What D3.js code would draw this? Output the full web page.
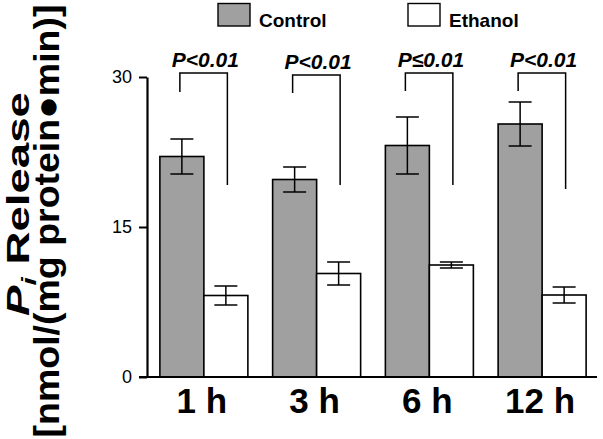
<!DOCTYPE html>
<html><head><meta charset="utf-8">
<script src="https://cdn.jsdelivr.net/npm/d3@7"></script>
<style>body{margin:0;background:#fff} svg{display:block} text{font-family:"Liberation Sans",Arial,Helvetica,sans-serif}</style>
</head><body><svg id="c" width="603" height="439"></svg>
<script>
const groups = ["1 h", "3 h", "6 h", "12 h"];
const series = ["Control", "Ethanol"];
const controlValues = [22.05, 19.75, 23.15, 25.3];
const controlErrors = [1.75, 1.25, 2.85, 2.2];
const ethanolValues = [8.15, 10.35, 11.2, 8.2];
const ethanolErrors = [0.95, 1.15, 0.3, 0.8];
const yTicks = [0, 15, 30];
const pLabels = ["P<0.01", "P<0.01", "P\u22640.01", "P<0.01"];
const bracketTop = [30.4, 30.2, 30.4, 30.4];
const bracketLeftEnd = [28.5, 28.4, 28.6, 28.6];
const bracketRightEnd = [19.2, 19.2, 19.2, 18.8];
const colors = {Control: "#a0a0a0", Ethanol: "#ffffff"};

const svg = d3.select("#c");
const x = d3.scaleBand().domain(groups).range([147.5, 598.5]).padding(0);
const y = d3.scaleLinear().domain([0, 30]).range([377, 77]);
const barW = 44;
const xs = d3.scaleBand().domain(series).range([-barW, barW]).padding(0);
const cx = g => x(g) + x.bandwidth() / 2;

const data = [];
groups.forEach((g, i) => {
  data.push({g, s: "Control", v: controlValues[i], e: controlErrors[i]});
  data.push({g, s: "Ethanol", v: ethanolValues[i], e: ethanolErrors[i]});
});

// bars
svg.append("g").selectAll("rect").data(data).join("rect")
  .attr("x", d => cx(d.g) + xs(d.s))
  .attr("y", d => y(d.v))
  .attr("width", xs.bandwidth())
  .attr("height", d => y(0) - y(d.v))
  .attr("fill", d => colors[d.s])
  .attr("stroke", "#000").attr("stroke-width", 1.6);

// error bars
const eg = svg.append("g").attr("stroke", "#000").attr("stroke-width", 1.5);
data.forEach(d => {
  const mx = cx(d.g) + xs(d.s) + xs.bandwidth() / 2;
  eg.append("line").attr("x1", mx).attr("x2", mx).attr("y1", y(d.v + d.e)).attr("y2", y(d.v - d.e));
  eg.append("line").attr("x1", mx - 11.5).attr("x2", mx + 11.5).attr("y1", y(d.v + d.e)).attr("y2", y(d.v + d.e));
  eg.append("line").attr("x1", mx - 11.5).attr("x2", mx + 11.5).attr("y1", y(d.v - d.e)).attr("y2", y(d.v - d.e));
});

// brackets + p labels
const bg = svg.append("g");
groups.forEach((g, i) => {
  const lx = cx(g) + xs("Control") + xs.bandwidth() / 2 - 2;
  const rx = cx(g) + xs("Ethanol") + xs.bandwidth() / 2 + 1.5;
  bg.append("path")
    .attr("d", `M${lx},${y(bracketLeftEnd[i])}V${y(bracketTop[i])}H${rx}V${y(bracketRightEnd[i])}`)
    .attr("fill", "none").attr("stroke", "#000").attr("stroke-width", 1.5);
  bg.append("text").attr("x", cx(g) + 1.5).attr("y", y(bracketTop[i]) - 6)
    .attr("text-anchor", "middle").attr("font-size", 21).attr("font-weight", "bold")
    .attr("font-style", "italic").text(pLabels[i]);
});

// y axis
const ya = svg.append("g").attr("transform", "translate(147,0)")
  .call(d3.axisLeft(y).tickValues(yTicks).tickSize(8).tickSizeOuter(0).tickPadding(7));
ya.select(".domain").attr("stroke-width", 2.2);
ya.selectAll(".tick line").attr("stroke-width", 2);
ya.selectAll(".tick text").attr("font-size", 18).attr("font-family", '"Liberation Sans",Arial,sans-serif');

// x axis line
svg.append("line").attr("x1", 139).attr("x2", 597).attr("y1", y(0)).attr("y2", y(0))
  .attr("stroke", "#000").attr("stroke-width", 2.2);
// x labels
svg.append("g").selectAll("text").data(groups).join("text")
  .attr("x", d => cx(d) - 2).attr("y", 413)
  .attr("text-anchor", "middle").attr("font-size", 35).attr("font-weight", "bold")
  .text(d => d);

// legend
const leg = svg.append("g");
const legX = [218, 408];
series.forEach((s, i) => {
  leg.append("rect").attr("x", legX[i]).attr("y", 3.5).attr("width", 32).attr("height", 22.5)
    .attr("fill", colors[s]).attr("stroke", "#000").attr("stroke-width", 1.4);
  leg.append("text").attr("x", legX[i] + 41).attr("y", 27).attr("font-size", 19)
    .attr("font-weight", "bold").text(s);
});

// y title
function stretchTitle(sel, targetLen, tx, ty) {
  const len = sel.node().getComputedTextLength();
  sel.attr("transform", `translate(${tx},${ty}) rotate(-90) scale(${targetLen / len},1)`);
}
const t1 = svg.append("text").attr("text-anchor", "middle").attr("font-size", 32).attr("font-weight", "bold");
t1.append("tspan").attr("font-style", "italic").text("P");
t1.append("tspan").attr("font-style", "italic").attr("font-size", 21).attr("dy", 7).text("i");
t1.append("tspan").attr("dy", -7).text(" Release");
stretchTitle(t1, 224, 29, 204);
const t2 = svg.append("text").attr("text-anchor", "middle").attr("font-size", 36).attr("font-weight", "bold")
  .text("[nmol/(mg protein\u25CFmin)]");
stretchTitle(t2, 433, 59, 221);
</script></body></html>
